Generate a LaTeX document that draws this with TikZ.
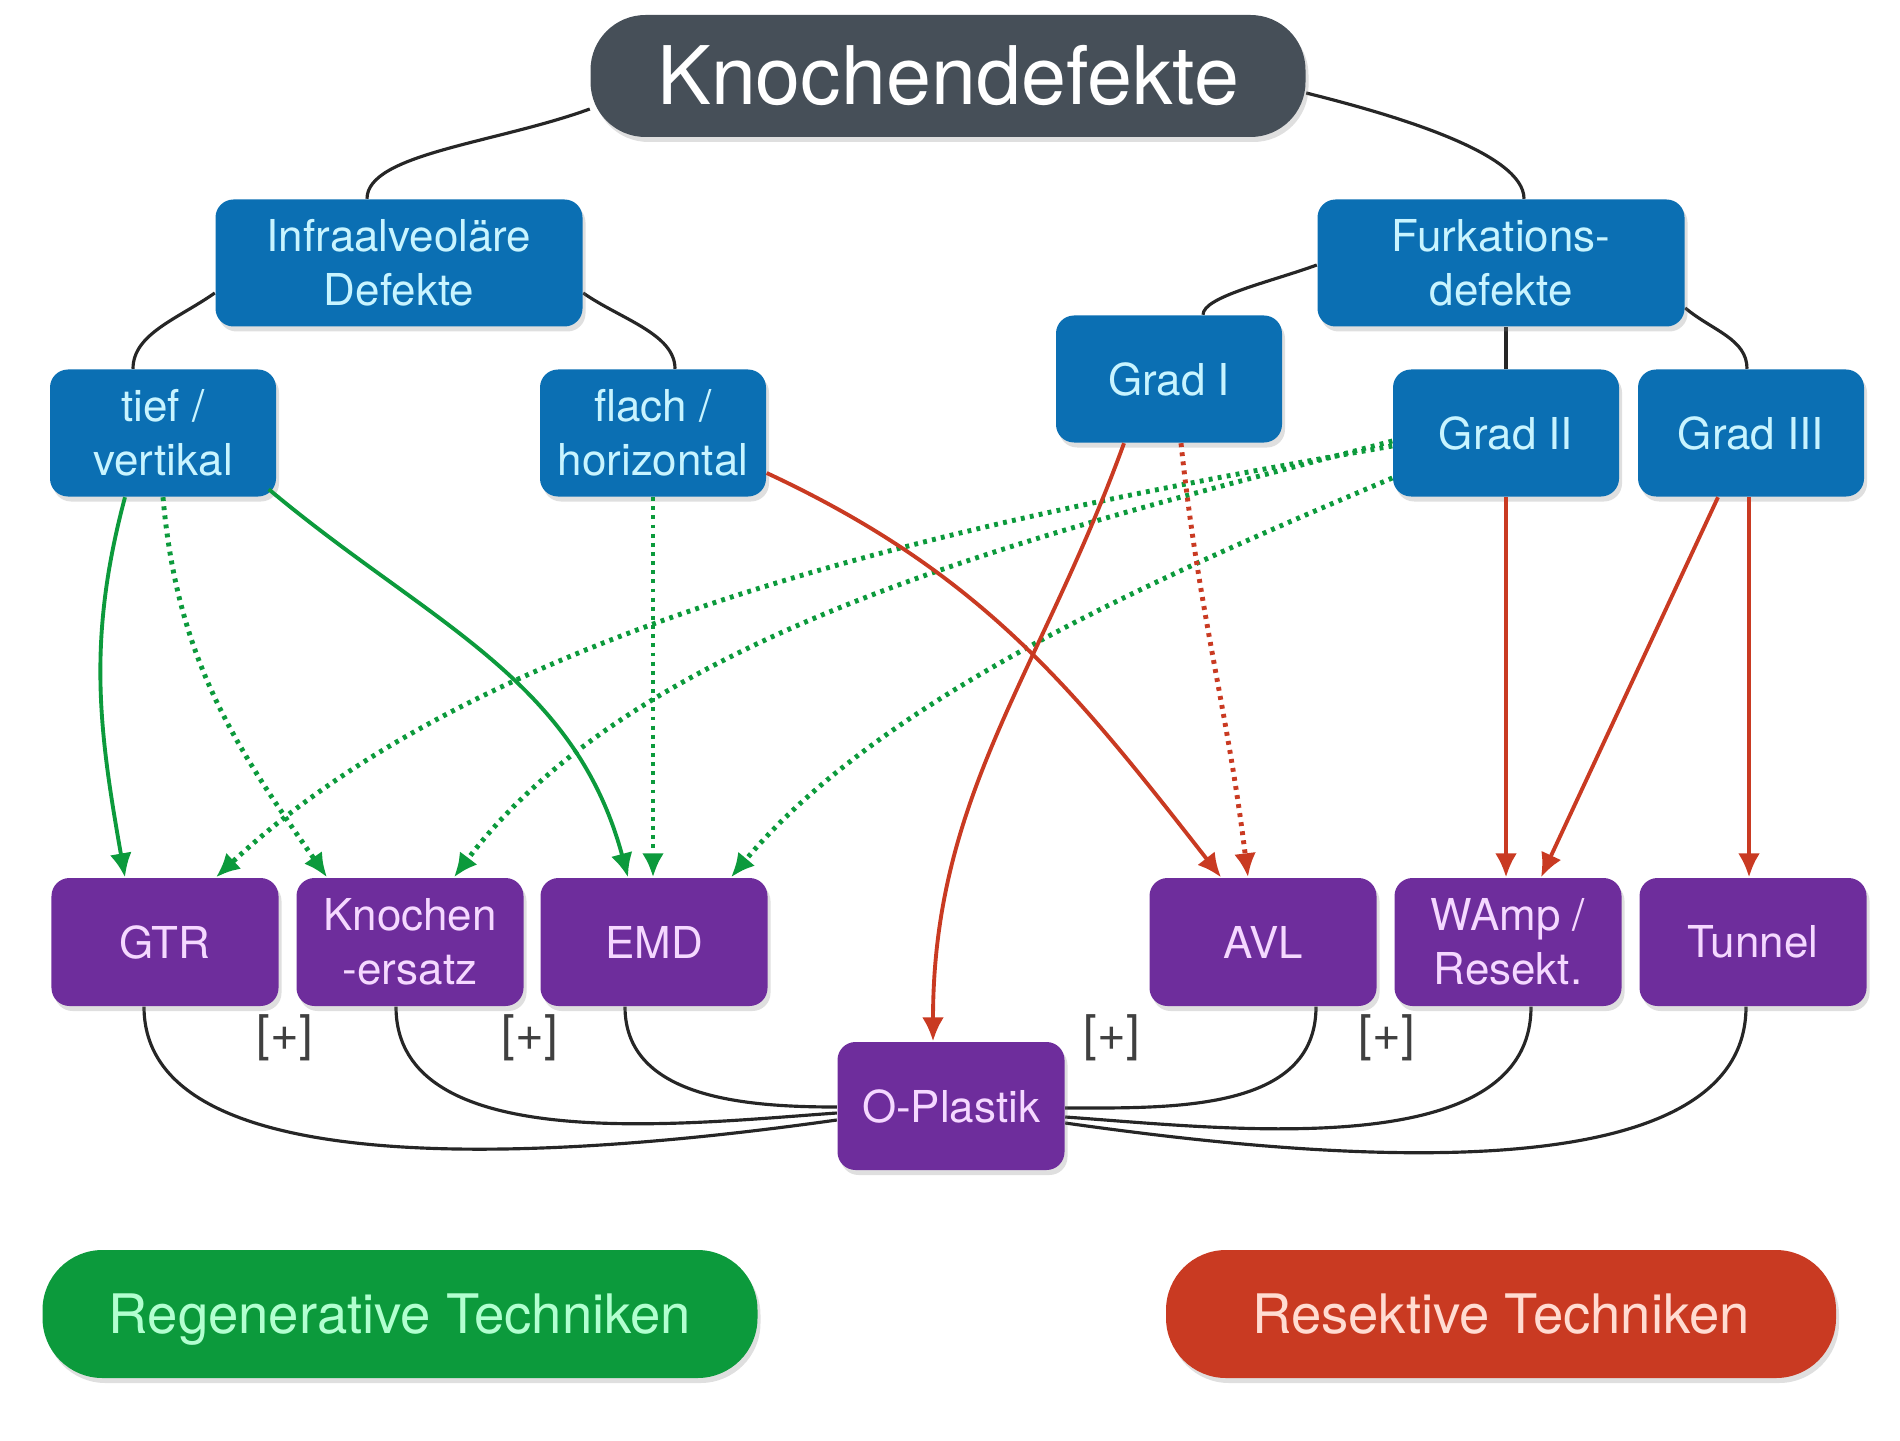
\documentclass[tikz,border=0pt]{standalone}
\usepackage{fontspec}
\setmainfont{TeX Gyre Heros}
\usetikzlibrary{arrows.meta,shadows,backgrounds}
\definecolor{titlegray}{HTML}{464F58}
\definecolor{defblue}{HTML}{0B6FB3}
\definecolor{deftext}{HTML}{C8F4FF}
\definecolor{techpurple}{HTML}{6E2D9C}
\definecolor{techtext}{HTML}{F5D8FF}
\definecolor{reggreen}{HTML}{0C9A3C}
\definecolor{regtext}{HTML}{B2FFD0}
\definecolor{resred}{HTML}{C93A22}
\definecolor{restext}{HTML}{FFDCD2}

\begin{document}
\begin{tikzpicture}[
    box/.style={rounded corners=1.8mm, align=center, inner sep=0pt,
      font=\fontsize{12.5}{15.5}\selectfont,
      drop shadow={shadow xshift=0.3mm, shadow yshift=-0.5mm, opacity=0.25}},
    defbox/.style={box, fill=defblue, text=deftext, minimum width=2.26cm, minimum height=1.27cm},
    techbox/.style={box, fill=techpurple, text=techtext, minimum width=2.27cm, minimum height=1.28cm},
    legendbox/.style={box, rounded corners=6mm, minimum height=1.28cm, text height=11.1pt, text depth=0pt,
      font=\fontsize{15.5}{18}\selectfont},
    tree/.style={line width=0.9pt, black!85},
    regarrow/.style={line width=1.1pt, reggreen, -{Latex[length=2.4mm,width=2.2mm]}},
    regdotted/.style={regarrow, line width=1.4pt, dash pattern=on 1.1pt off 1.5pt},
    resarrow/.style={line width=1.1pt, resred, -{Latex[length=2.4mm,width=2.2mm]}},
    resdotted/.style={resarrow, line width=1.4pt, dash pattern=on 1.1pt off 1.5pt},
    plus/.style={text=black!75, font=\fontsize{14}{16}\selectfont}
  ]
  \useasboundingbox (0,0) rectangle (19,-14.41);

  % top of the tree
  \node[box, fill=titlegray, text=white, rounded corners=5.5mm, minimum width=7.15cm,
    minimum height=1.22cm, font=\fontsize{23}{26}\selectfont] (title) at (9.48,-0.76) {Knochendefekte};

  % defect types
  \node[defbox, minimum width=3.67cm] (infra) at (3.99,-2.63) {Infraalveoläre\\Defekte};
  \node[defbox, minimum width=3.67cm] (furk) at (15.01,-2.63) {Furkations-\\defekte};
  \node[defbox] (tief) at (1.63,-4.33) {tief /\\vertikal};
  \node[defbox] (flach) at (6.53,-4.33) {flach /\\horizontal};
  \node[defbox] (gradI) at (11.69,-3.79) {Grad I};
  \node[defbox] (gradII) at (15.06,-4.33) {Grad II};
  \node[defbox] (gradIII) at (17.51,-4.33) {Grad III};

  % techniques
  \node[techbox] (gtr) at (1.65,-9.42) {GTR};
  \node[techbox] (ersatz) at (4.10,-9.42) {Knochen\\-ersatz};
  \node[techbox] (emd) at (6.54,-9.42) {EMD};
  \node[techbox] (avl) at (12.63,-9.42) {AVL};
  \node[techbox] (wamp) at (15.08,-9.42) {WAmp /\\Resekt.};
  \node[techbox] (tunnel) at (17.53,-9.42) {Tunnel};
  \node[techbox] (oplastik) at (9.51,-11.06) {O-Plastik};

  % combination marks
  \node[plus] (plusa) at (2.85,-10.38) {[+]};
  \node[plus] (plusb) at (5.30,-10.38) {[+]};
  \node[plus] (plusc) at (11.12,-10.38) {[+]};
  \node[plus] (plusd) at (13.87,-10.38) {[+]};

  % legend
  \node[legendbox, fill=reggreen, text=regtext, minimum width=7.15cm] (regen) at (4.00,-13.14) {Regenerative Techniken};
  \node[legendbox, fill=resred, text=restext, minimum width=6.70cm] (resekt) at (15.01,-13.14) {Resektive Techniken};

  \begin{scope}[on background layer]
    % black tree lines
    \draw[tree] ([yshift=-3.3mm]title.west) .. controls +(200:1.0) and +(90:0.45) .. ([xshift=-3.2mm]infra.north);
    \draw[tree] ([yshift=-1.7mm]title.east) .. controls +(-14:0.95) and +(90:0.45) .. ([xshift=2.3mm]furk.north);
    \draw[tree] ([yshift=-3mm]infra.west) .. controls +(215:0.45) and +(90:0.35) .. ([xshift=-3mm]tief.north);
    \draw[tree] ([yshift=-3mm]infra.east) .. controls +(-35:0.45) and +(90:0.35) .. ([xshift=2.2mm]flach.north);
    \draw[tree] ([yshift=-0.2mm]furk.west) .. controls +(200:0.5) and +(90:0.18) .. ([xshift=3.4mm]gradI.north);
    \draw[tree] (gradII.north) -- (gradII.north |- furk.south);
    \draw[tree] ([yshift=-4.5mm]furk.east) .. controls +(-40:0.35) and +(90:0.3) .. ([xshift=-0.4mm]gradIII.north);

    % lines to O-Plastik
    \draw[tree] ([xshift=-2.1mm]gtr.south) to[out=-90, in=188, looseness=0.72] ([yshift=-1.4mm]oplastik.west);
    \draw[tree] ([xshift=-1.4mm]ersatz.south) to[out=-90, in=184, looseness=0.85] ([yshift=-0.7mm]oplastik.west);
    \draw[tree] ([xshift=-2.9mm]emd.south) to[out=-90, in=180] ([yshift=-0.1mm]oplastik.west);
    \draw[tree] ([xshift=5.3mm]avl.south) to[out=-90, in=0] ([yshift=-0.2mm]oplastik.east);
    \draw[tree] ([xshift=2.3mm]wamp.south) to[out=-90, in=-4, looseness=0.85] ([yshift=-1.1mm]oplastik.east);
    \draw[tree] ([xshift=-0.7mm]tunnel.south) to[out=-90, in=-8, looseness=0.75] ([yshift=-1.7mm]oplastik.east);
  \end{scope}

  % regenerative arrows
  \draw[regarrow] ([xshift=-3.8mm]tief.south) to[out=-105, in=100] ([xshift=-4mm]gtr.north);
  \draw[regarrow] ([shift={(-0.8mm,0.8mm)}]tief.south east) to[out=-40, in=105] ([xshift=-2.6mm]emd.north);
  \draw[regdotted] (tief.south) to[out=-85, in=125] ([xshift=-8.3mm]ersatz.north);
  \draw[regdotted] (flach.south) -- (flach.south |- emd.north);
  \draw[regdotted] ([yshift=-1.3mm]gradII.west) to[out=190, in=43, looseness=0.8] ([xshift=5.1mm]gtr.north);
  \draw[regdotted] ([yshift=-0.8mm]gradII.west) to[out=195, in=53, looseness=0.8] ([xshift=4.4mm]ersatz.north);
  \draw[regdotted] ([yshift=-4.5mm]gradII.west) to[out=203, in=50, looseness=0.8] ([xshift=7.7mm]emd.north);

  % resective arrows
  \draw[resdotted] ([xshift=1.2mm]gradI.south) to[out=-84, in=97] ([xshift=-1.5mm]avl.north);
  \draw[resarrow] ([yshift=-4mm]flach.east) to[out=-25, in=128] ([xshift=-4.2mm]avl.north);
  \draw[resarrow] ([xshift=-4.5mm]gradI.south) to[out=-110, in=90] ([xshift=-1.8mm]oplastik.north);
  \draw[resarrow] (gradII.south) -- (gradII.south |- wamp.north);
  \draw[resarrow] ([xshift=-3.3mm]gradIII.south) -- ([xshift=3.3mm]wamp.north);
  \draw[resarrow] ([xshift=-0.2mm]gradIII.south) -- ([xshift=-0.2mm]gradIII.south |- tunnel.north);
\end{tikzpicture}
\end{document}
